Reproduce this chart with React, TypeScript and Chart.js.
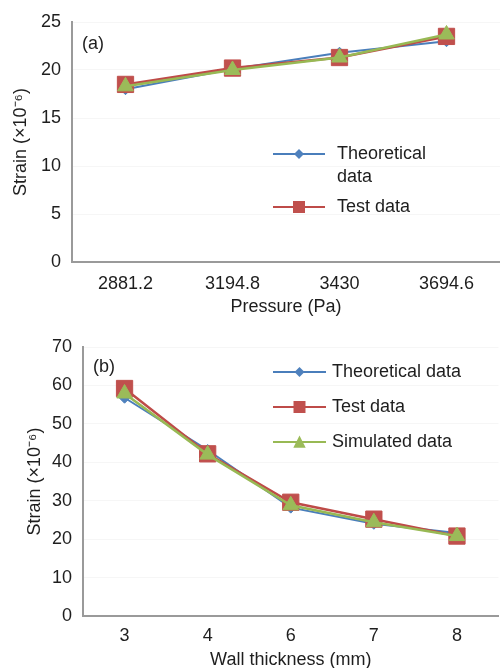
import React, { useEffect, useRef } from 'react';
import { Chart, registerables } from 'chart.js';

Chart.register(...registerables);

// ---------- data ----------
const pressureLabels = ['2881.2', '3194.8', '3430', '3694.6'];
const theoreticalA = [18.0, 20.1, 21.8, 23.0];
const testA = [18.5, 20.2, 21.3, 23.5];
const simulatedA = [18.3, 20.0, 21.3, 23.7];
const yRangeA = [0, 25, 5];

const thicknessLabels = ['3', '4', '6', '7', '8'];
const theoreticalB = [56.8, 43.2, 28.2, 24.0, 21.6];
const testB = [59.2, 42.2, 29.6, 25.2, 20.8];
const simulatedB = [57.9, 42.0, 28.8, 24.4, 20.8];
const yRangeB = [0, 70, 10];

const seriesNames = ['Theoretical data', 'Test data', 'Simulated data'];
const xTitleA = 'Pressure (Pa)';
const xTitleB = 'Wall thickness (mm)';
const yTitle = 'Strain (×10⁻⁶)';
const panelA = '(a)';
const panelB = '(b)';

// ---------- styles ----------
const FONT = '"Liberation Sans", Arial, Helvetica, sans-serif';
const TEXT = '#1e1e1e';
const AXIS = '#9a9a9a';
const styles = [
  { line: '#4A7EBB', fill: '#4F81BD', shape: 'rectRot', r: 5.5, bw: 2, order: 3, lr: 5 },
  { line: '#BE4B48', fill: '#C0504D', shape: 'rect', r: 11.5, bw: 2.5, order: 2, lr: 6 },
  { line: '#98B954', fill: '#9BBB59', shape: 'triangle', r: 9, bw: 2.5, order: 1, lr: 6.5 },
];

function makeDatasets(series: number[][]) {
  return series.map((d, i) => ({
    label: seriesNames[i],
    data: d,
    borderColor: styles[i].line,
    backgroundColor: styles[i].fill,
    pointBackgroundColor: styles[i].fill,
    pointBorderColor: styles[i].fill,
    pointBorderWidth: 1,
    pointStyle: styles[i].shape,
    pointRadius: styles[i].r,
    borderWidth: styles[i].bw,
    order: styles[i].order,
    tension: 0,
    clip: false as any,
  }));
}

function drawMarker(ctx: CanvasRenderingContext2D, shape: string, x: number, y: number, r: number) {
  ctx.beginPath();
  if (shape === 'rectRot') {
    ctx.moveTo(x, y - r);
    ctx.lineTo(x + r, y);
    ctx.lineTo(x, y + r);
    ctx.lineTo(x - r, y);
  } else if (shape === 'rect') {
    ctx.rect(x - r, y - r, 2 * r, 2 * r);
  } else {
    ctx.moveTo(x, y - r);
    ctx.lineTo(x + r * 0.95, y + r * 0.9);
    ctx.lineTo(x - r * 0.95, y + r * 0.9);
  }
  ctx.closePath();
  ctx.fill();
}

function wrapText(ctx: CanvasRenderingContext2D, text: string, maxW: number) {
  const words = text.split(' ');
  const lines: string[] = [];
  let cur = '';
  for (const w of words) {
    const t = cur ? cur + ' ' + w : w;
    if (cur && ctx.measureText(t).width > maxW) {
      lines.push(cur);
      cur = w;
    } else cur = t;
  }
  if (cur) lines.push(cur);
  return lines;
}

function overlayPlugin(o: any) {
  return {
    id: 'overlay',
    afterDatasetsDraw(chart: any) {
      const ctx: CanvasRenderingContext2D = chart.ctx;
      ctx.save();
      ctx.font = `18px ${FONT}`;
      ctx.fillStyle = TEXT;
      ctx.textBaseline = 'middle';
      ctx.textAlign = 'left';
      ctx.fillText(o.panel, o.panelX, o.panelY);
      let y = o.legendY;
      o.items.forEach((idx: number) => {
        const s = styles[idx];
        ctx.strokeStyle = s.line;
        ctx.lineWidth = 2;
        ctx.beginPath();
        ctx.moveTo(o.lineX0, y);
        ctx.lineTo(o.lineX1, y);
        ctx.stroke();
        ctx.fillStyle = s.fill;
        drawMarker(ctx, s.shape, (o.lineX0 + o.lineX1) / 2, y, s.lr);
        ctx.fillStyle = TEXT;
        const lines = wrapText(ctx, seriesNames[idx], o.wrapW);
        lines.forEach((ln, k) => ctx.fillText(ln, o.textX, y + k * o.lineH));
        y += lines.length * o.lineH + o.gap;
      });
      ctx.restore();
    },
  };
}

function makeConfig(p: any) {
  return {
    type: 'line' as const,
    data: { labels: p.labels, datasets: makeDatasets(p.series) },
    options: {
      animation: false as const,
      responsive: false,
      devicePixelRatio: 1,
      layout: { autoPadding: false, padding: { top: p.padTop, right: p.padRight, bottom: 0, left: 0 } },
      plugins: { legend: { display: false }, tooltip: { enabled: false } },
      scales: {
        x: {
          type: 'category' as const,
          offset: true,
          grid: { display: false },
          border: { display: true, color: AXIS, width: 2 },
          ticks: { color: TEXT, font: { size: 18, family: FONT }, padding: p.xTickPad, maxRotation: 0, autoSkip: false },
          title: { display: true, text: p.xTitle, color: TEXT, font: { size: 18, family: FONT }, padding: { top: 0, bottom: p.xTitlePad } },
          afterFit: (s: any) => { s.height = p.xHeight; },
        },
        y: {
          min: p.yRange[0],
          max: p.yRange[1],
          ticks: { stepSize: p.yRange[2], color: TEXT, font: { size: 18, family: FONT }, padding: 11 },
          grid: { color: 'rgba(0,0,0,0.035)', drawTicks: false },
          border: { display: true, color: AXIS, width: 2 },
          title: { display: true, text: yTitle, color: TEXT, font: { size: 18, family: FONT }, padding: { top: p.yTitlePad, bottom: 0 } },
          afterFit: (s: any) => { s.width = p.yWidth; },
        },
      },
    },
    plugins: [overlayPlugin(p.overlay)],
  };
}

function LineChart({ params, width, height }: { params: any; width: number; height: number }) {
  const ref = useRef<HTMLCanvasElement>(null);
  useEffect(() => {
    const chart = new Chart(ref.current as HTMLCanvasElement, makeConfig(params) as any);
    return () => chart.destroy();
  }, []);
  return <canvas ref={ref} width={width} height={height} style={{ display: 'block', width, height }} />;
}

const paramsA = {
  labels: pressureLabels,
  series: [theoreticalA, testA, simulatedA],
  yRange: yRangeA,
  xTitle: xTitleA,
  padTop: 22,
  padRight: 0,
  xHeight: 63,
  xTickPad: 3,
  xTitlePad: 7,
  yWidth: 72,
  yTitlePad: 10,
  overlay: {
    panel: panelA, panelX: 82, panelY: 44,
    items: [0, 1], legendY: 154, lineX0: 273, lineX1: 325, textX: 337,
    lineH: 23, gap: 7, wrapW: 115,
  },
};

const paramsB = {
  labels: thicknessLabels,
  series: [theoreticalB, testB, simulatedB],
  yRange: yRangeB,
  xTitle: xTitleB,
  padTop: 22,
  padRight: 1.5,
  xHeight: 52,
  xTickPad: 1,
  xTitlePad: -3,
  yWidth: 83,
  yTitlePad: 24.5,
  overlay: {
    panel: panelB, panelX: 93, panelY: 42,
    items: [0, 1, 2], legendY: 47, lineX0: 273, lineX1: 326, textX: 332,
    lineH: 23, gap: 12, wrapW: 200,
  },
};

export default function App() {
  return (
    <div style={{ position: 'absolute', left: 0, top: 0, width: 500, height: 668, background: '#fff', overflow: 'hidden' }}>
      <LineChart params={paramsA} width={500} height={325} />
      <LineChart params={paramsB} width={500} height={343} />
    </div>
  );
}
